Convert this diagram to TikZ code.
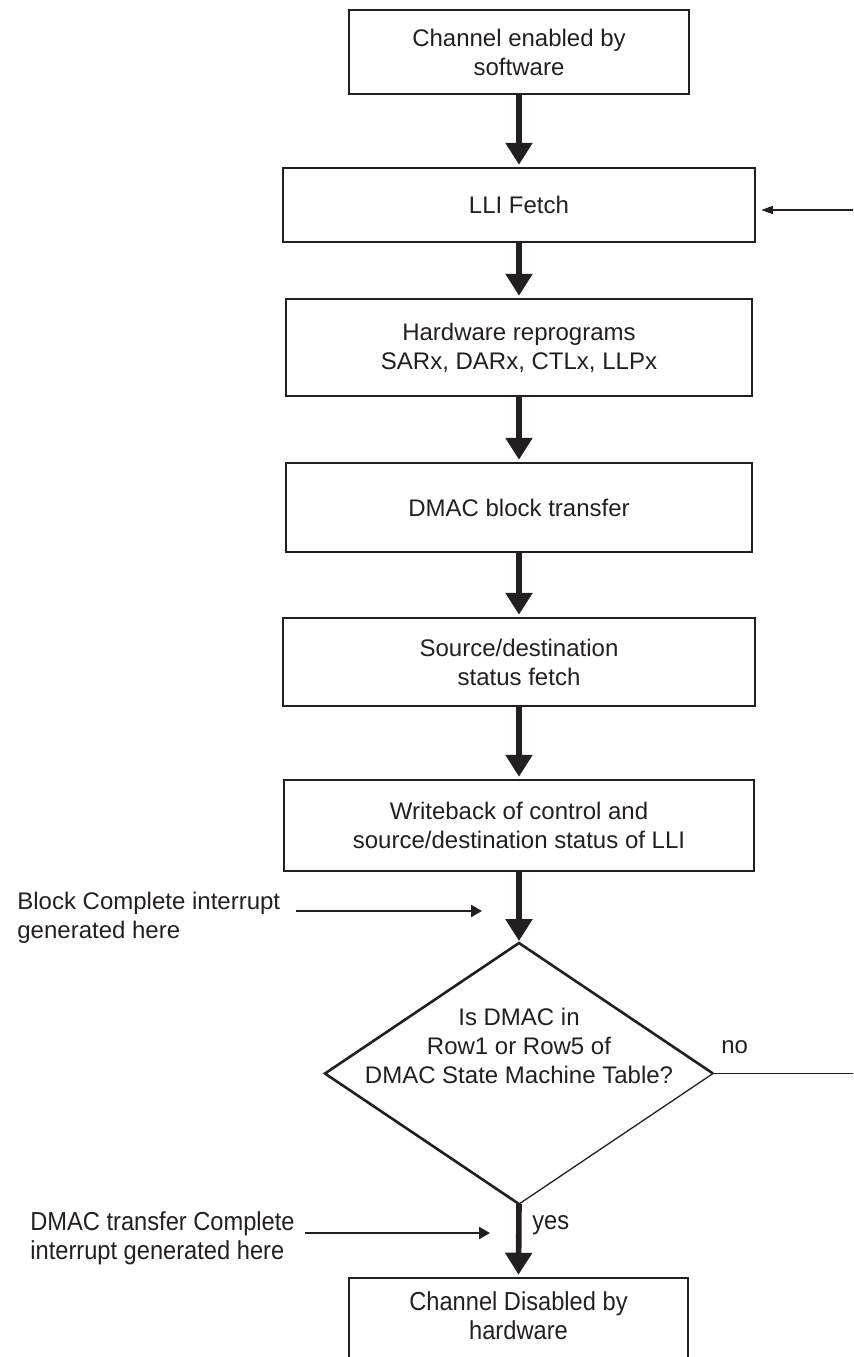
\documentclass[tikz,border=0pt]{standalone}
\usepackage{fontspec}
\setmainfont{Liberation Sans}
\usetikzlibrary{arrows.meta,shapes.geometric}
\definecolor{ink}{RGB}{35,31,32}
\begin{document}
\begin{tikzpicture}[x=0.5pt,y=-0.5pt,
  every node/.style={font=\fontsize{12pt}{14.5pt}\selectfont, text=ink, inner sep=0pt},
  box/.style={draw=ink, line width=1.25pt, align=center},
  flow/.style={draw=ink, line width=2.8pt, -{Triangle[length=11pt,width=13pt]}, shorten >=1pt},
  note/.style={draw=ink, line width=1.2pt, -{Triangle[length=5.5pt,width=6pt]}},
  feed/.style={draw=ink, line width=0.7pt, -{Triangle[length=5.8pt,width=4pt]}, shorten >=2.5pt},
  hair/.style={draw=ink, line width=0.65pt},
  edgethick/.style={draw=ink, line width=1.3pt, line join=miter},
  narrow/.style={font=\fontsize{13pt}{14.5pt}\selectfont}
]
\useasboundingbox (0,0) rectangle (853,1357);
\clip (0,0) rectangle (853,1357);

% process boxes
\node[box, minimum width=170pt, minimum height=42pt] (b1) at (519,52) {Channel enabled by\\software};
\node[box, minimum width=236pt, minimum height=37pt] (b2) at (519,205) {LLI Fetch};
\node[box, minimum width=233pt, minimum height=48.5pt] (b3) at (519,347.5) {Hardware reprograms\\SARx, DARx, CTLx, LLPx};
\node[box, minimum width=233pt, minimum height=44.5pt] (b4) at (519,507.5) {DMAC block transfer};
\node[box, minimum width=236pt, minimum height=44pt] (b5) at (519,662) {Source/destination\\status fetch};
\node[box, minimum width=235pt, minimum height=45.5pt] (b6) at (519,825.5) {Writeback of control and\\source/destination status of LLI};

% decision
\node[diamond, minimum width=194pt, minimum height=130.5pt, outer sep=0pt] (dec) at (519,1073.5) {};
\draw[edgethick] (dec.south) -- (dec.west) -- (dec.north) -- (dec.east);
\draw[hair] (dec.east) -- (dec.south);
\node[align=center] (dectext) at (519,1045.5) {Is DMAC in\\Row1 or Row5 of\\DMAC State Machine Table?};

% final box (cut at the bottom edge)
\node[box, minimum width=169.5pt, minimum height=41pt, narrow] (b7) at (518.5,1319)
  {\scalebox{0.91}[1]{\begin{tabular}{@{}c@{}}Channel Disabled by\\hardware\end{tabular}}};

% main flow
\draw[flow] (b1.south) -- (b2.north);
\draw[flow] (b2.south) -- (b3.north);
\draw[flow] (b3.south) -- (b4.north);
\draw[flow] (b4.south) -- (b5.north);
\draw[flow] (b5.south) -- (b6.north);
\draw[flow] (b6.south) -- (dec.north);
\draw[flow] (dec.south) -- (b7.north);

% loop back into LLI Fetch from the right
\coordinate (lliin) at (860,210);
\draw[feed] (lliin) -- (lliin -| b2.east);

% "no" branch
\coordinate (noend) at (860,1073.5);
\draw[hair] (dec.east) -- (noend);
\node[anchor=base west] (no) at (721,1053) {no};

% "yes" label
\node[anchor=base west, narrow] (yes) at (532,1229) {\scalebox{0.91}[1]{yes}};

% interrupt notes
\node[anchor=west, align=left] (blk) at (17,917.4) {Block Complete interrupt\\generated here};
\coordinate (blkfrom) at (296,911);
\coordinate (blkto) at (482,911);
\draw[note] (blkfrom) -- (blkto);

\node[anchor=west, narrow] (dtc) at (30,1238.7)
  {\scalebox{0.91}[1]{\begin{tabular}{@{}l@{}}DMAC transfer Complete\\interrupt generated here\end{tabular}}};
\coordinate (dtcfrom) at (305,1233);
\coordinate (dtcto) at (490,1233);
\draw[note] (dtcfrom) -- (dtcto);
\end{tikzpicture}
\end{document}
